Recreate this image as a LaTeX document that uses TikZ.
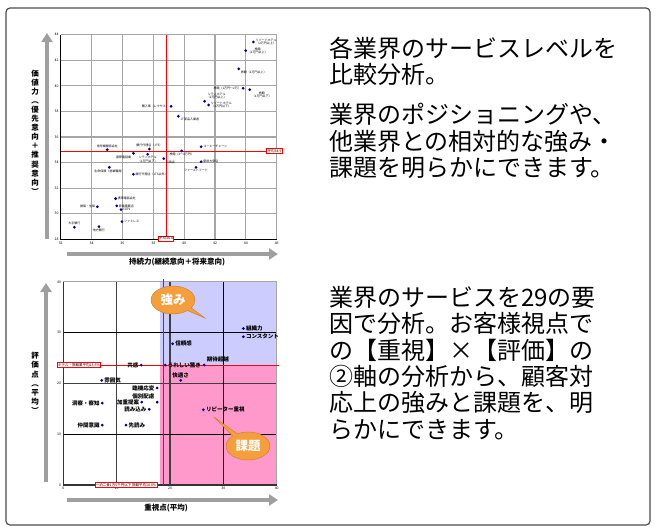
\documentclass[tikz,border=0pt]{standalone}
\usepackage{fontspec}
\setmainfont{Noto Sans CJK JP}
\usetikzlibrary{arrows.meta,positioning,shapes.geometric,shapes.callouts}

\definecolor{navy}{RGB}{0,0,140}
\definecolor{lavender}{RGB}{204,204,255}
\definecolor{rosepink}{RGB}{255,153,204}
\definecolor{callorange}{RGB}{245,158,60}

\begin{document}
\begin{tikzpicture}[x=1pt,y=-1pt,
  datapt/.style = {diamond,fill=navy,inner sep=0pt,minimum size=3.2pt},
  ptlabel/.style = {font=\fontsize{3}{3.5}\selectfont,inner sep=0.2pt,outer sep=2pt,align=center},
  keylabel/.style = {font=\fontsize{5.5}{6}\selectfont\bfseries,inner sep=0.2pt,outer sep=2.5pt},
  gridline/.style = {draw=gray!70,line width=1.2pt},
  avgline/.style = {draw=red,line width=1pt},
  avgbox/.style = {draw=red,fill=white,line width=0.8pt,inner sep=0.8pt,font=\fontsize{3.5}{4}\selectfont},
  axisarrow/.style = {draw=gray!75,line width=4pt,-{Triangle[width=11pt,length=9pt]}},
  ticklbl/.style = {font=\fontsize{3.5}{4}\selectfont,inner sep=0.5pt},
  axtitle/.style = {font=\fontsize{7.5}{9.1}\selectfont\bfseries,inner sep=0pt,align=center},
  bodytext/.style = {font=\fontsize{24}{26.4}\selectfont,align=left,anchor=north west,inner sep=0pt},
  bubble/.style = {ellipse callout,fill=callorange,draw=callorange!80!black,line width=0.4pt,text=white,
    font=\fontsize{12.5}{13}\selectfont\bfseries,minimum width=44pt,minimum height=28pt,inner sep=0pt}]
\useasboundingbox (0,0) rectangle (656,531);
\draw[draw=gray!60!black,line width=1.2pt,rounded corners=4pt] (6,8) rectangle (650,525);

% upper chart
\coordinate (tyfoot) at (47,239);
\coordinate (tytip) at (47,33);
\coordinate (txfoot) at (67,254);
\coordinate (txtip) at (278,254);
\draw[axisarrow] (tyfoot) -- (tytip);
\draw[axisarrow] (txfoot) -- (txtip);
\node[axtitle] (tytitle) at (35,132) {価\\値\\力\\︵\\優\\先\\意\\向\\＋\\推\\奨\\意\\向\\︶};
\node[axtitle] (txtitle) at (177,262) {持続力(継続意向＋将来意向)};
\begin{scope}[shift={(60.7,239.3)},x=15.43pt,y=12.79pt,shift={(-32,-28)}]
\foreach \g in {34,36,...,44}
    \draw[gridline] (\g,28) -- (\g,44);
\foreach \g in {30,32,...,42}
    \draw[gridline] (32,\g) -- (46,\g);
\draw[gridline] (32,44) -- (46,44) -- (46,28);
\draw[black,line width=0.8pt] (32,44) -- (32,28) -- (46,28);
\foreach \g in {32,34,...,46}
    \node[ticklbl,below=1.5pt] (tx\g) at (\g,28) {\g};
\foreach \g in {28,30,...,44}
    \node[ticklbl,left=1.5pt] (ty\g) at (32,\g) {\g};
\draw[avgline] (38.83,28) -- (38.83,44);
\draw[avgline] (32,34.9) -- (45.3,34.9);
\node[avgbox] (avgx) at (38.83,28.05) {平均38.8};
\node[avgbox] (avgy) at (45.86,34.9) {平均34.9};
\foreach \x/\y/\t/\an [count=\k] in {
    44.49/43.43/{リゾートホテル\\（2万円以上）}/west,
    43.99/42.75/{旅館\\（2万円以上）}/west,
    43.54/41.32/{旅館（1万円以上）}/north west,
    43.82/39.81/{旅館（1万円〜2万）}/east,
    44.25/39.70/{旅館\\（1万円以下）}/north west,
    41.33/38.79/{シティホテル\\（2万円以上）}/south west,
    41.59/38.50/{リゾートホテル\\（2万円以下）}/west,
    39.15/38.40/{購入車（レクサス）}/east,
    39.63/37.62/{JT部品入業者}/north west,
    41.10/35.24/{コーヒーチェーン}/west,
    39.84/34.91/{旅館（2〜3万円）}/north,
    35.02/35.01/{信号機関係会社}/south,
    37.75/35.06/{銀行代理店（JTS）}/south,
    36.71/34.72/{国際電話業}/north east,
    37.64/34.65/{シティホテル\\（1万円以下）}/north,
    38.68/34.31/{百貨店}/north west,
    41.10/34.07/{駅前大型店}/west,
    40.77/33.63/{ファーストフード}/north,
    35.15/33.63/{生命保険（営業職員）}/north,
    36.71/33.08/{銀行代理店（JTS以外）}/west,
    35.56/31.18/{携帯電話会社}/west,
    35.63/30.61/{家電量販店}/west,
    35.91/30.32/{CATV}/west,
    34.38/30.55/{損保・生保}/east,
    35.97/29.38/{ファミレス}/west,
    32.89/28.94/{大手銀行}/south,
    34.48/28.99/{地方銀行}/north}
{
    \node[datapt] (a\k) at (\x,\y) {};
    \node[ptlabel,anchor=\an] (al\k) at (a\k) {\t};
}
\end{scope}

% lower chart
\coordinate (byfoot) at (46,482);
\coordinate (bytip) at (46,283);
\coordinate (bxfoot) at (67,500);
\coordinate (bxtip) at (278,500);
\draw[axisarrow] (byfoot) -- (bytip);
\draw[axisarrow] (bxfoot) -- (bxtip);
\node[axtitle] (bytitle) at (35,383) {評\\価\\点\\︵\\平\\均\\︶};
\node[axtitle] (bxtitle) at (166,508) {重視点(平均)};
\begin{scope}[shift={(63.3,485)},x=5.335pt,y=5.08pt]
\fill[lavender] (18.1,23.6) rectangle (40,40);
\fill[rosepink] (18.1,0) rectangle (40,23.6);
\draw[gridline,draw=gray!50!black] (10,0) -- (10,40) (20,0) -- (20,40) (0,20) -- (40,20);
\draw[black,line width=0.9pt] (30,0) -- (30,40) (0,10) -- (40,10) (0,30) -- (40,30);
\draw[gridline] (0,40) -- (40,40) -- (40,0);
\draw[draw=gray!40!black,line width=1.4pt] (0,40) -- (0,0) -- (40,0);
\foreach \g in {0,10,...,40}
    \node[ticklbl,below=1.5pt] (bx\g) at (\g,0) {\g};
\foreach \g in {0,10,...,40}
    \node[ticklbl,left=1.5pt] (by\g) at (0,\g) {\g};
\draw[avgline] (18.75,0) -- (18.75,40.6);
\node[avgbox] (avgh) at (2.94,23.6) {ホテル・旅館業平均23.6\%};
\node[avgbox] (avgv) at (11.77,0) {一泊二食1万5千円以下\ 旅館平均18.6\%};
\draw[avgline] (avgh.east) -- (40.4,23.6);
\foreach \x/\y/\t/\an [count=\k] in {
    33.75/30.8/組織力/west,
    33.75/29.2/コンスタント/west,
    20.5/27.8/信頼感/west,
    26.4/23.6/期待超越/south west,
    19.1/23.6/うれしい驚き/west,
    14.6/23.6/共感/east,
    22/20.6/快適さ/south,
    7.2/20.6/雰囲気/west,
    17.6/19.1/臨機応変/east,
    17.6/16.3/個別配慮/south east,
    14.7/16.3/加重提案/east,
    16.1/14.9/読み込み/east,
    7.3/16.1/洞察・察知/east,
    7.3/11.8/仲間意識/east,
    11.75/11.8/先読み/west,
    26.25/14.8/リピーター重視/west}
{
    \node[datapt] (b\k) at (\x,\y) {};
    \node[keylabel,anchor=\an] (bl\k) at (b\k) {\t};
}
\end{scope}
\node[bubble,callout absolute pointer={(205,318)}] (strong) at (173,300) {強み};
\node[bubble,callout absolute pointer={(214,417)}] (issue) at (248,446) {課題};

% text column
\node[bodytext] (lead) at (329,37) {各業界のサービスレベルを\\比較分析。};
\node[bodytext,below=17pt of lead.south west,anchor=north west] (merit) {業界のポジショニングや、\\他業界との相対的な強み・\\課題を明らかにできます。};
\node[bodytext] (factor) at (329,286) {業界のサービスを29の要\\因で分析。お客様視点で\\の【重視】×【評価】の\\②軸の分析から、顧客対\\応上の強みと課題を、明\\らかにできます。};
\end{tikzpicture}
\end{document}
